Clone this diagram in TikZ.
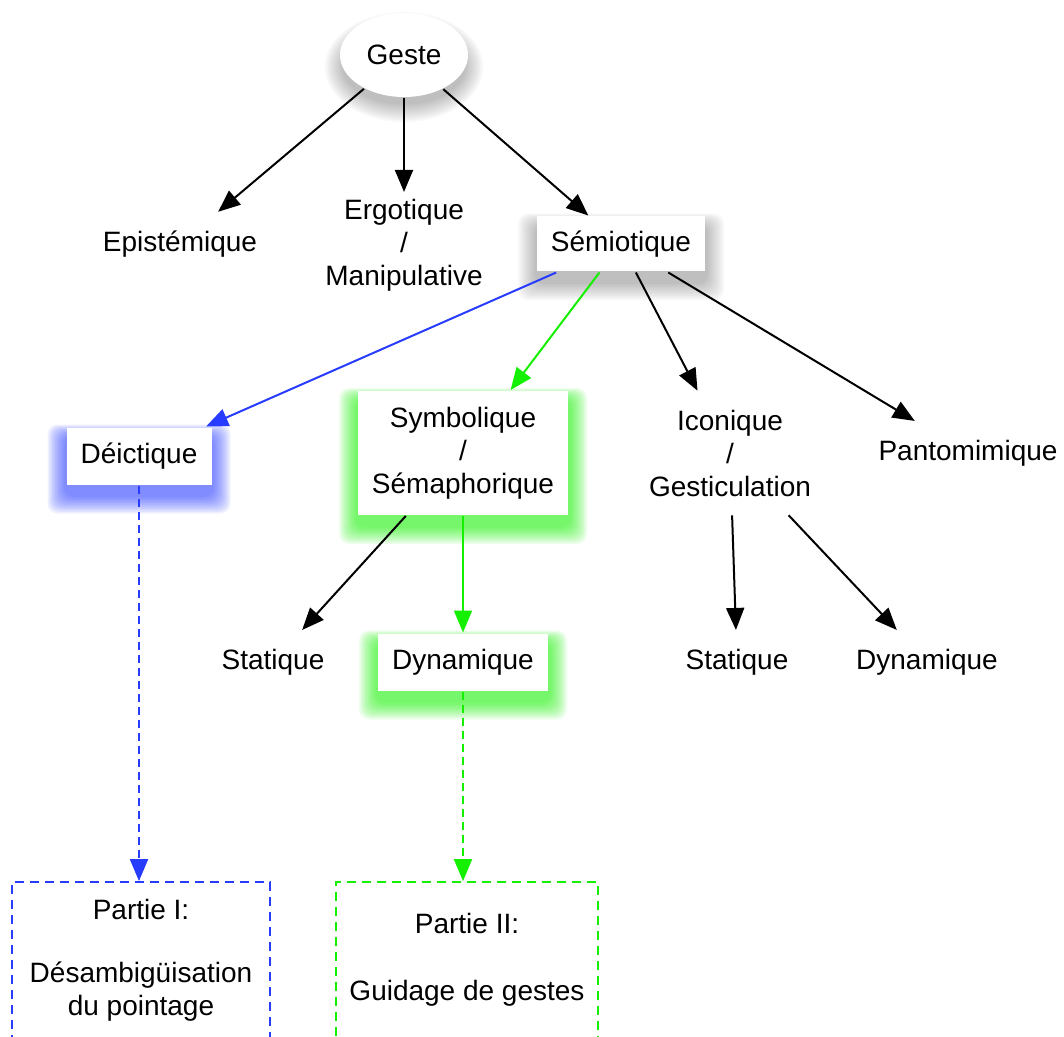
\documentclass[tikz,border=0pt]{standalone}
\usepackage{fontspec}
\setmainfont{Liberation Sans}
\usetikzlibrary{arrows.meta,shapes.geometric,backgrounds}
\definecolor{bleu}{RGB}{40,60,255}
\definecolor{vert}{RGB}{20,240,0}
% halo flou autour d'une boite
\newcommand\halo[3]{%
	\foreach \r in {1,...,12}
	\fill[#2,opacity=#3,rounded corners=5pt] ([shift={({-\r*0.75pt},{-\r*0.75pt-5pt})}]#1.south west) rectangle ([shift={({\r*0.75pt},{\r*0.5pt-5pt})}]#1.north east);}
\begin{document}
\begin{tikzpicture}[x=0.5pt,y=-0.5pt,>={Triangle[length=11pt,width=9pt]},line width=1pt,
		font=\fontsize{14}{16.5}\selectfont,
		mot/.style={align=center,inner sep=9pt},
		boite/.style={fill=white,align=center,inner sep=0pt,minimum height=28.5pt},
		partie/.style={draw,dash pattern=on 4.5pt off 3pt,line width=0.9pt,align=center,minimum height=78pt}]
	\useasboundingbox (0,0) rectangle (1064,1037);
	% niveaux
	\node[ellipse,fill=white,minimum width=64pt,minimum height=42pt,inner sep=0pt] (geste) at (404,55) {Geste};
	\node[mot] (episteme) at (180,244) {Epistémique};
	\node[mot,inner sep=3pt] (ergo) at (404,245) {Ergotique\\/\\Manipulative};
	\node[boite,minimum width=84pt,minimum height=27.5pt] (semio) at (621,244) {Sémiotique};
	\node[boite,minimum width=72.5pt] (deic) at (139,456) {Déictique};
	\node[boite,minimum width=105pt,minimum height=62pt] (symbo) at (463,453) {Symbolique\\/\\Sémaphorique};
	\node[mot] (icon) at (730,453) {Iconique\\/\\Gesticulation};
	\node[mot] (panto) at (968,453) {Pantomimique};
	\node[mot] (stat1) at (273,662) {Statique};
	\node[boite,minimum width=85pt] (dyn1) at (463,662) {Dynamique};
	\node[mot] (stat2) at (737,662) {Statique};
	\node[mot] (dyn2) at (927,662) {Dynamique};
	\node[partie,draw=bleu,minimum width=129pt] (p1) at (141,960) {Partie I:\\[15pt]Désambigüisation\\du pointage};
	\node[partie,draw=vert,minimum width=131pt] (p2) at (467,960) {Partie II:\\[17pt]Guidage de gestes};
	% ombres
	\begin{scope}[on background layer]
		\foreach \r in {1,...,12}
		\fill[black,opacity=.025] ([yshift=-6pt]geste.center) ellipse [x radius={30pt+\r*0.8pt}, y radius={18pt+\r*0.8pt}];
		\halo{semio}{black}{.025}
		\halo{deic}{bleu}{.07}
		\halo{symbo}{vert}{.07}
		\halo{dyn1}{vert}{.07}
	\end{scope}
	% fleches
	\draw[->] (geste) -- (episteme);
	\draw[->] (geste) -- (ergo);
	\draw[->] (geste) -- (semio);
	\draw[->,bleu] (semio) -- (deic);
	\draw[->,vert] (semio) -- (symbo);
	\draw[->] (semio) -- (icon);
	\draw[->] (semio) -- (panto);
	\draw[->] (symbo) -- (stat1);
	\draw[->,vert] (symbo) -- (dyn1);
	\draw[->] (icon) -- (stat2);
	\draw[->] (icon) -- (dyn2);
	\draw[->,bleu,dash pattern=on 4pt off 2.5pt] (deic.south) -- (deic.south |- p1.north);
	\draw[->,vert,dash pattern=on 4pt off 2.5pt] (dyn1.south) -- (dyn1.south |- p2.north);
\end{tikzpicture}
\end{document}
